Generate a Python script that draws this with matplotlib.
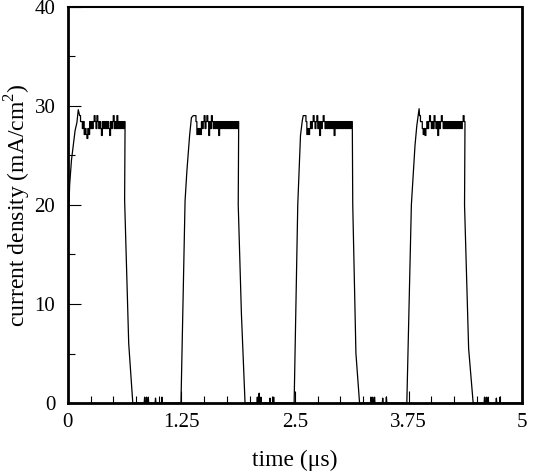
import numpy as np
import matplotlib
matplotlib.use("Agg")
import matplotlib.pyplot as plt
from matplotlib.ticker import MultipleLocator

plt.rcParams['font.family'] = ['Liberation Serif', 'DejaVu Serif']
plt.rcParams['mathtext.fontset'] = 'custom'
plt.rcParams['mathtext.rm'] = 'Liberation Serif'

dt = 0.01  # sampling step of the plateau readings (us)

# pulse 1
rise1_t = [0.0, 0.01, 0.02, 0.04, 0.06, 0.08, 0.10, 0.115, 0.13]
rise1_j = [14.5, 19.0, 22.0, 24.5, 26.0, 27.5, 28.3, 29.6, 29.0]
plat1_start = 0.13
plat1_j = [29.0, 28.4, 28.4, 27.7, 28.4, 27.1, 27.7, 27.1, 26.7, 27.7,
           27.1, 28.4, 27.7, 28.4, 27.7, 28.4, 29.0, 28.4, 27.7, 29.0,
           28.4, 27.7, 28.4, 27.7, 27.0, 28.4, 27.7, 28.4, 27.7, 28.4,
           27.7, 28.4, 27.7, 27.0, 28.4, 27.7, 28.4, 29.0, 27.7, 28.4,
           27.7, 29.0, 27.7, 28.4, 27.7, 28.4, 27.7, 28.4, 27.7, 28.4]
fall1_t = [0.625, 0.67, 0.715]
fall1_j = [20.5, 6.0, 0.0]
gap1_t = [0.84, 0.845, 0.85, 0.86, 0.865, 0.87, 0.88, 0.885, 0.89, 0.96, 0.965, 0.97, 1.03, 1.035, 1.04, 1.245]
gap1_j = [0.0, 0.6, 0.0, 0.0, 0.6, 0.0, 0.0, 0.6, 0.0, 0.0, 0.5, 0.0, 0.0, 0.6, 0.0, 0.0]

# pulse 2
rise2_t = [1.29, 1.31, 1.34, 1.36, 1.38]
rise2_j = [20.4, 23.4, 27.0, 28.8, 29.0]
plat2_start = 1.38
plat2_j = [29.0, 29.0, 29.0, 28.4, 27.1, 27.7, 27.1, 27.7, 27.1, 28.4,
           27.7, 28.4, 29.0, 27.7, 28.4, 29.0, 28.4, 27.0, 28.4, 27.7,
           29.0, 28.4, 27.7, 28.4, 27.7, 28.4, 27.7, 28.4, 27.0, 28.4,
           27.7, 28.4, 27.7, 28.4, 27.7, 28.4, 27.7, 28.4, 27.7, 28.4,
           27.7, 28.4, 27.7, 28.4, 27.7, 28.4, 27.7, 28.4, 27.7, 28.4]
fall2_t = [1.875, 1.91, 1.95]
fall2_j = [20.0, 9.0, 0.0]
gap2_t = [2.08, 2.085, 2.09, 2.10, 2.105, 2.11, 2.12, 2.125, 2.13, 2.22, 2.225, 2.23, 2.26, 2.265, 2.27, 2.49]
gap2_j = [0.0, 0.6, 0.0, 0.0, 1.0, 0.0, 0.0, 0.6, 0.0, 0.0, 0.5, 0.0, 0.0, 0.6, 0.0, 0.0]

# pulse 3
rise3_t = [2.53, 2.56, 2.58, 2.59]
rise3_j = [20.0, 27.0, 28.5, 29.0]
plat3_start = 2.59
plat3_j = [29.0, 29.0, 29.0, 28.4, 27.1, 27.7, 27.1, 27.7, 28.4, 27.7,
           28.4, 29.0, 28.4, 27.7, 28.4, 29.0, 27.7, 28.4, 27.0, 28.4,
           27.7, 28.4, 29.0, 28.4, 27.7, 28.4, 27.7, 28.4, 27.7, 28.4,
           27.7, 28.4, 27.7, 28.4, 27.0, 28.4, 27.7, 28.4, 27.7, 28.4,
           27.7, 28.4, 27.7, 28.4, 27.7, 28.4, 27.7, 28.4, 27.7, 28.4,
           27.7, 28.4, 27.7, 28.4]
fall3_t = [3.135, 3.17, 3.21]
fall3_j = [20.0, 5.0, 0.0]
gap3_t = [3.33, 3.335, 3.34, 3.35, 3.355, 3.36, 3.37, 3.375, 3.38, 3.46, 3.465, 3.47, 3.50, 3.505, 3.51, 3.73]
gap3_j = [0.0, 0.6, 0.0, 0.0, 0.6, 0.0, 0.0, 0.6, 0.0, 0.0, 0.5, 0.0, 0.0, 0.6, 0.0, 0.0]

# pulse 4
rise4_t = [3.78, 3.82, 3.84, 3.865, 3.87]
rise4_j = [20.0, 26.0, 28.0, 29.7, 29.0]
plat4_start = 3.87
plat4_j = [29.0, 28.4, 28.4, 27.7, 27.1, 27.7, 27.0, 27.7, 28.4, 27.7,
           28.4, 29.0, 28.4, 27.7, 28.4, 27.7, 29.0, 28.4, 27.7, 28.4,
           27.0, 28.4, 27.7, 28.4, 29.0, 28.4, 27.7, 28.4, 27.7, 28.4,
           27.7, 28.4, 27.7, 28.4, 27.7, 28.4, 27.7, 28.4, 27.7, 28.4,
           27.7, 28.4, 27.7, 28.4, 27.7, 28.4, 27.7, 28.4, 29.0, 28.4]
fall4_t = [4.365, 4.41, 4.46]
fall4_j = [20.0, 5.5, 0.0]
gap4_t = [4.58, 4.585, 4.59, 4.60, 4.605, 4.61, 4.62, 4.625, 4.63, 4.71, 4.715, 4.72, 4.75, 4.755, 4.76, 5.0]
gap4_j = [0.0, 0.6, 0.0, 0.0, 0.6, 0.0, 0.0, 0.6, 0.0, 0.0, 0.5, 0.0, 0.0, 0.6, 0.0, 0.0]


def staircase(start, vals):
    # plateau readings are held constant over each sample step
    ts = start + dt * np.arange(len(vals) + 1)
    xs = np.repeat(ts, 2)[1:-1]
    ys = np.repeat(vals, 2)
    return xs, ys


pulses = [
    (rise1_t, rise1_j, plat1_start, plat1_j, fall1_t, fall1_j, gap1_t, gap1_j),
    (rise2_t, rise2_j, plat2_start, plat2_j, fall2_t, fall2_j, gap2_t, gap2_j),
    (rise3_t, rise3_j, plat3_start, plat3_j, fall3_t, fall3_j, gap3_t, gap3_j),
    (rise4_t, rise4_j, plat4_start, plat4_j, fall4_t, fall4_j, gap4_t, gap4_j),
]

t_parts, j_parts = [], []
for rt, rj, ps, pj, ft, fj, gt, gj in pulses:
    st, sj = staircase(ps, pj)
    t_parts += [rt, st, ft, gt]
    j_parts += [rj, sj, fj, gj]
t = np.concatenate(t_parts)
j = np.concatenate(j_parts)

fig = plt.figure(figsize=(5.34, 4.72), dpi=100)
ax = fig.add_axes([0.127, 0.146, 0.851, 0.840])
ax.plot(t, j, color='black', lw=0.9)

ax.set_xlim(0, 5)
ax.set_ylim(0, 40)
ax.set_xticks([0, 1.25, 2.5, 3.75, 5])
ax.set_xticklabels(['0', '1.25', '2.5', '3.75', '5'])
ax.set_yticks([0, 10, 20, 30, 40])
ax.xaxis.set_minor_locator(MultipleLocator(0.25))
ax.yaxis.set_minor_locator(MultipleLocator(5))
ax.tick_params(which='both', direction='in', top=False, right=False, labelsize=15, width=0.8)
ax.tick_params(which='major', length=9)
ax.tick_params(which='minor', length=5)
ax.tick_params(axis='y', pad=9)
ax.tick_params(axis='x', pad=7)
for s in ['left', 'bottom', 'right']:
    ax.spines[s].set_linewidth(2)
ax.spines['top'].set_linewidth(1.5)

ax.set_xlabel('time (\u03bcs)', fontsize=17, labelpad=13)
ax.set_ylabel('current density (mA/cm$^2$)', fontsize=17)
ax.yaxis.set_label_coords(-0.077, 0.5)

fig.savefig('out.png', dpi=100)
